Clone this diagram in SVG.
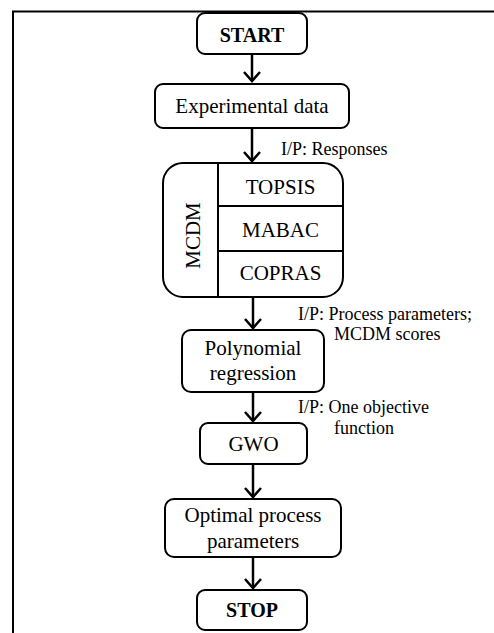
<svg xmlns="http://www.w3.org/2000/svg" width="494" height="633" viewBox="0 0 494 633">
  <style>
    .box { fill: #ffffff; stroke: #000000; stroke-width: 2; }
    .line { fill: none; stroke: #000000; stroke-width: 2; }
    .t { font-family: "Liberation Serif", "Times New Roman", serif; font-size: 21px; fill: #000000; text-anchor: middle; }
    .b { font-weight: bold; font-size: 20px; }
    .lbl { font-family: "Liberation Serif", "Times New Roman", serif; font-size: 18px; fill: #000000; }
    .arrow { fill: none; stroke: #000000; stroke-width: 2.5; marker-end: url(#head); }
  </style>
  <defs>
    <marker id="head" markerUnits="userSpaceOnUse" markerWidth="14" markerHeight="18" refX="11" refY="8" orient="auto" overflow="visible">
      <path d="M2,0 L11,8 L2,16" fill="none" stroke="#000000" stroke-width="2.5" stroke-linejoin="miter"/>
    </marker>
  </defs>

  <rect width="494" height="633" fill="#ffffff"/>
  <!-- outer frame: top and left edges -->
  <path d="M13,633 L13,11.5 L494,11.5" class="line"/>

  <g id="connectors">
    <line class="arrow" x1="252" y1="54" x2="252" y2="81"/>
    <line class="arrow" x1="252" y1="128" x2="252" y2="161"/>
    <line class="arrow" x1="253" y1="297" x2="253" y2="328"/>
    <line class="arrow" x1="253" y1="392" x2="253" y2="421"/>
    <line class="arrow" x1="253" y1="464" x2="253" y2="497"/>
    <line class="arrow" x1="253" y1="557" x2="253" y2="588"/>
    <text class="lbl" x="281" y="155">I/P: Responses</text>
    <text class="lbl" x="298" y="320">I/P: Process parameters;</text>
    <text class="lbl" x="334" y="340">MCDM scores</text>
    <text class="lbl" x="298" y="413">I/P: One objective</text>
    <text class="lbl" x="334" y="434">function</text>
  </g>

  <g id="start">
    <rect class="box" x="197" y="13" width="110" height="41" rx="8"/>
    <text class="t b" x="252" y="42">START</text>
  </g>

  <g id="experimental-data">
    <rect class="box" x="155" y="84" width="194" height="44" rx="8"/>
    <text class="t" x="252" y="113">Experimental data</text>
  </g>

  <g id="mcdm">
    <rect class="box" x="163" y="163" width="180" height="134" rx="20"/>
    <line class="line" x1="218" y1="163" x2="218" y2="297"/>
    <line class="line" x1="218" y1="206" x2="343" y2="206"/>
    <line class="line" x1="218" y1="251" x2="343" y2="251"/>
    <text class="t" transform="translate(200,235.5) rotate(-90)" x="0" y="0">MCDM</text>
    <text class="t" x="280.5" y="194">TOPSIS</text>
    <text class="t" x="280.5" y="237">MABAC</text>
    <text class="t" x="280.5" y="280">COPRAS</text>
  </g>

  <g id="polynomial-regression">
    <rect class="box" x="182" y="330" width="142" height="62" rx="9"/>
    <text class="t" x="253" y="355">Polynomial</text>
    <text class="t" x="253" y="380">regression</text>
  </g>

  <g id="gwo">
    <rect class="box" x="200" y="423" width="107" height="41" rx="8"/>
    <text class="t" x="253.5" y="451">GWO</text>
  </g>

  <g id="optimal-parameters">
    <rect class="box" x="165" y="499" width="176" height="58" rx="9"/>
    <text class="t" x="253" y="522">Optimal process</text>
    <text class="t" x="253" y="548">parameters</text>
  </g>

  <g id="stop">
    <rect class="box" x="197" y="590" width="110" height="40" rx="8"/>
    <text class="t b" x="252" y="617">STOP</text>
  </g>
</svg>
